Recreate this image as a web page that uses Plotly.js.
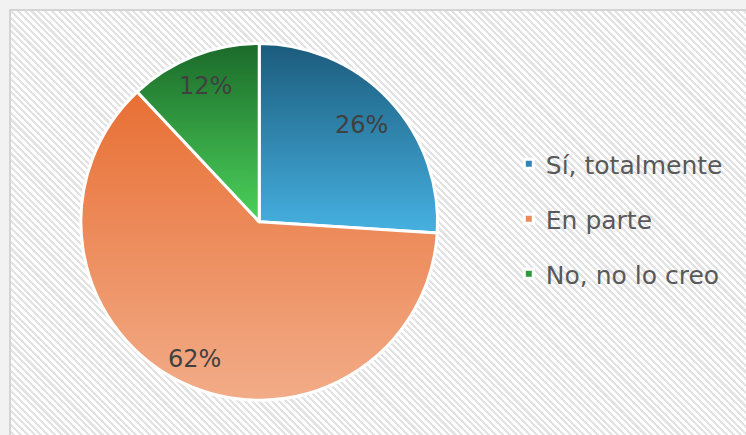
<!DOCTYPE html>
<html>
<head>
<meta charset="utf-8">
<script src="https://cdn.plot.ly/plotly-3.0.1.min.js"></script>
<style>
html,body{margin:0;padding:0;width:746px;height:435px;overflow:hidden;background:#f2f2f2;}
#frame{position:absolute;left:9px;top:9px;width:737px;height:426px;border-left:2px solid #d4d4d4;border-top:2px solid #d4d4d4;
background:repeating-linear-gradient(45deg,#ffffff 0px,#ffffff 2.6px,#e3e3e3 2.6px,#e3e3e3 4.8px);}
#chart{position:absolute;left:0;top:0;width:746px;height:435px;}
</style>
</head>
<body>
<div id="frame"></div>
<div id="chart"></div>
<script>
const categories = ["Sí, totalmente", "En parte", "No, no lo creo"];
const values = [26, 62, 12];
const baseColors = ["#2f86b4", "#ec8a5a", "#2f9a3c"];
const gradTop = ["#1b5b7c", "#e86f34", "#1b6a29"];
const gradBottom = ["#46b1e1", "#f2ac88", "#4cd25b"];
const labelRadius = [0.79, 0.85, 0.82];

const pieDomain = {x: [0.105, 0.59], y: [0.08, 0.90]};
const W = 746, H = 435;

const data = [{
  type: "pie",
  labels: categories,
  values: values,
  sort: false,
  direction: "clockwise",
  rotation: 0,
  marker: {colors: baseColors, line: {color: "#ffffff", width: 3}},
  textinfo: "none",
  domain: pieDomain,
  hoverinfo: "none"
}];

// data labels placed along each slice's mid-angle (Excel-like best fit)
const total = values.reduce((a, b) => a + b, 0);
const cx = (pieDomain.x[0] + pieDomain.x[1]) / 2;
const cy = (pieDomain.y[0] + pieDomain.y[1]) / 2;
const rPx = Math.min((pieDomain.x[1] - pieDomain.x[0]) * W, (pieDomain.y[1] - pieDomain.y[0]) * H) / 2;
let cum = 0;
const annotations = values.map(function(v, i){
  const mid = (cum + v / 2) / total * 2 * Math.PI;
  cum += v;
  const r = rPx * labelRadius[i];
  return {
    xref: "paper", yref: "paper",
    x: cx + r * Math.sin(mid) / W,
    y: cy + r * Math.cos(mid) / H,
    xanchor: "center", yanchor: "middle",
    text: Math.round(v / total * 100) + "%",
    showarrow: false,
    font: {family: "DejaVu Sans, sans-serif", size: 24, color: "#404040"}
  };
});

const layout = {
  width: W, height: H,
  margin: {l: 0, r: 0, t: 0, b: 0},
  paper_bgcolor: "rgba(0,0,0,0)",
  plot_bgcolor: "rgba(0,0,0,0)",
  showlegend: true,
  annotations: annotations,
  legend: {
    x: 0.678, y: 0.5, xanchor: "left", yanchor: "middle",
    font: {family: "DejaVu Sans, sans-serif", size: 25, color: "#595959"},
    itemwidth: 30,
    bgcolor: "rgba(0,0,0,0)"
  }
};

Plotly.newPlot("chart", data, layout, {displayModeBar: false, staticPlot: true}).then(function(gd){
  const svg = gd.querySelector("svg.main-svg");
  const ns = "http://www.w3.org/2000/svg";
  let defs = svg.querySelector("defs");
  if (!defs) { defs = document.createElementNS(ns, "defs"); svg.insertBefore(defs, svg.firstChild); }
  for (let i = 0; i < categories.length; i++) {
    const g = document.createElementNS(ns, "linearGradient");
    g.setAttribute("id", "sliceGrad" + i);
    g.setAttribute("x1", "0"); g.setAttribute("y1", "0");
    g.setAttribute("x2", "0"); g.setAttribute("y2", "1");
    const s1 = document.createElementNS(ns, "stop");
    s1.setAttribute("offset", "0"); s1.setAttribute("stop-color", gradTop[i]);
    const s2 = document.createElementNS(ns, "stop");
    s2.setAttribute("offset", "1"); s2.setAttribute("stop-color", gradBottom[i]);
    g.appendChild(s1); g.appendChild(s2);
    defs.appendChild(g);
  }
  gd.querySelectorAll("g.slice path.surface").forEach(function(p, i){
    p.style.fill = "url(#sliceGrad" + i + ")";
  });
  // widen legend row spacing like the reference
  const items = gd.querySelectorAll("g.legend g.traces");
  const spacing = 55;
  const n = items.length;
  const y0 = parseFloat((items[0].getAttribute("transform") || "translate(0,0)").match(/translate\([^,]+,\s*([^)]+)\)/)[1]);
  items.forEach(function(it, i){
    const m = /translate\(([^,]+),\s*([^)]+)\)/.exec(it.getAttribute("transform") || "");
    const x0 = m ? parseFloat(m[1]) : 0;
    it.setAttribute("transform", "translate(" + x0 + "," + (y0 + i * spacing) + ")");
    const sym = it.querySelector("g.legendpoints path");
    if (sym) {
      sym.setAttribute("d", "M4.5,4.5H-4.5V-4.5H4.5Z");
      sym.setAttribute("transform", "translate(23,0)");
    }
  });
  const scroll = gd.querySelector("g.legend g.scrollbox");
  if (scroll) {
    const rows = (n - 1) * spacing;
    scroll.setAttribute("transform", "translate(0," + (-rows / 2 + 37) + ")");
  }
  gd.querySelectorAll("g.legend [clip-path]").forEach(function(e){ e.removeAttribute("clip-path"); });
});
</script>
</body>
</html>
